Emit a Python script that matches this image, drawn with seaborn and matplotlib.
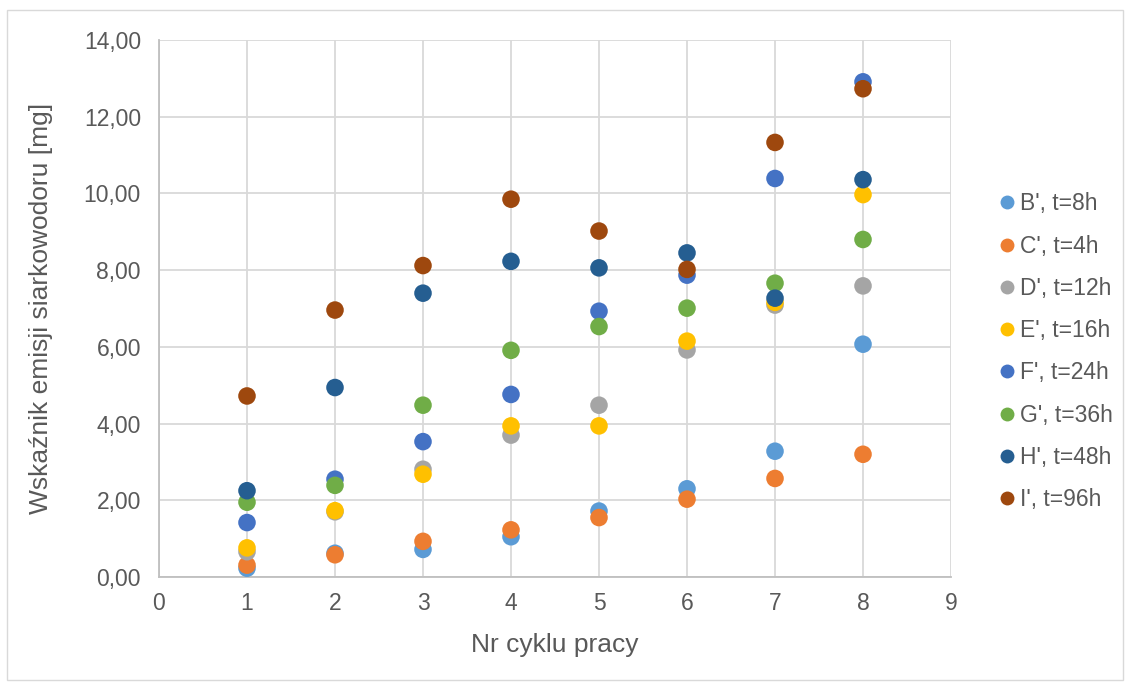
import matplotlib
matplotlib.use("Agg")
import matplotlib.pyplot as plt
from matplotlib.ticker import FuncFormatter, MultipleLocator
from matplotlib.patches import Rectangle
import pandas as pd
import seaborn as sns

# Data
cycles = [1, 2, 3, 4, 5, 6, 7, 8]
series_names = ["B', t=8h", "C', t=4h", "D', t=12h", "E', t=16h",
                "F', t=24h", "G', t=36h", "H', t=48h", "I', t=96h"]
b_vals = [0.23, 0.62, 0.72, 1.05, 1.72, 2.30, 3.28, 6.07]
c_vals = [0.31, 0.58, 0.93, 1.23, 1.55, 2.03, 2.57, 3.20]
d_vals = [0.66, 1.70, 2.81, 3.70, 4.48, 5.92, 7.09, 7.59]
e_vals = [0.76, 1.73, 2.68, 3.94, 3.94, 6.15, 7.16, 9.97]
f_vals = [1.42, 2.55, 3.53, 4.76, 6.93, 7.87, 10.39, 12.91]
g_vals = [1.95, 2.39, 4.48, 5.91, 6.53, 7.01, 7.66, 8.80]
h_vals = [2.25, 4.94, 7.40, 8.23, 8.06, 8.45, 7.27, 10.36]
i_vals = [4.72, 6.96, 8.12, 9.85, 9.02, 8.02, 11.33, 12.73]
colors = ["#5B9BD5", "#ED7D31", "#A5A5A5", "#FFC000",
          "#4472C4", "#70AD47", "#255E91", "#9E480E"]

all_vals = [b_vals, c_vals, d_vals, e_vals, f_vals, g_vals, h_vals, i_vals]
rows = []
for name, vals in zip(series_names, all_vals):
    for x, y in zip(cycles, vals):
        rows.append({"cycle": x, "value": y, "series": name})
df = pd.DataFrame(rows)

sns.set_theme(style="white")
plt.rcParams['font.family'] = ['Liberation Sans', 'DejaVu Sans']

fig = plt.figure(figsize=(11.3, 6.84), dpi=100)
ax = fig.add_axes([0.1407, 0.1564, 0.7009, 0.7851])

sns.scatterplot(data=df, x="cycle", y="value", hue="series",
                hue_order=series_names, palette=colors, s=160,
                linewidth=0, ax=ax, legend=False, zorder=3)

ax.set_xlim(0, 9)
ax.set_ylim(0, 14)
ax.xaxis.set_major_locator(MultipleLocator(1))
ax.yaxis.set_major_locator(MultipleLocator(2))
ax.yaxis.set_major_formatter(FuncFormatter(lambda v, p: f"{v:.2f}".replace('.', ',')))
ax.grid(True, color="#D9D9D9", linewidth=1.3)
ax.set_axisbelow(True)
for side in ["top", "right"]:
    ax.spines[side].set_visible(False)
for side in ["left", "bottom"]:
    ax.spines[side].set_color("#BFBFBF")
    ax.spines[side].set_linewidth(1.3)
ax.tick_params(axis="both", length=0, labelsize=16.5, labelcolor="#595959")
ax.tick_params(axis="y", pad=13)
ax.tick_params(axis="x", pad=11)
ax.set_xlabel("Nr cyklu pracy", fontsize=19, color="#595959", labelpad=13)
ax.set_ylabel("Wskaźnik emisji siarkowodoru [mg]", fontsize=19, color="#595959", labelpad=22)

handles = [plt.Line2D([], [], marker="o", linestyle="", markersize=10,
                      markerfacecolor=c, markeredgewidth=0) for c in colors]
fig.legend(handles, series_names, loc="upper left", bbox_to_anchor=(0.877, 0.732),
           frameon=False, fontsize=16.5, labelcolor="#595959", labelspacing=0.84,
           handlelength=0.6, handletextpad=0.25, borderaxespad=0)

# outer chart border
fig.patches.append(Rectangle((0.006, 0.006), 0.988, 0.979, transform=fig.transFigure,
                             fill=False, edgecolor="#D9D9D9", linewidth=1))

fig.savefig("out.png", dpi=100)
